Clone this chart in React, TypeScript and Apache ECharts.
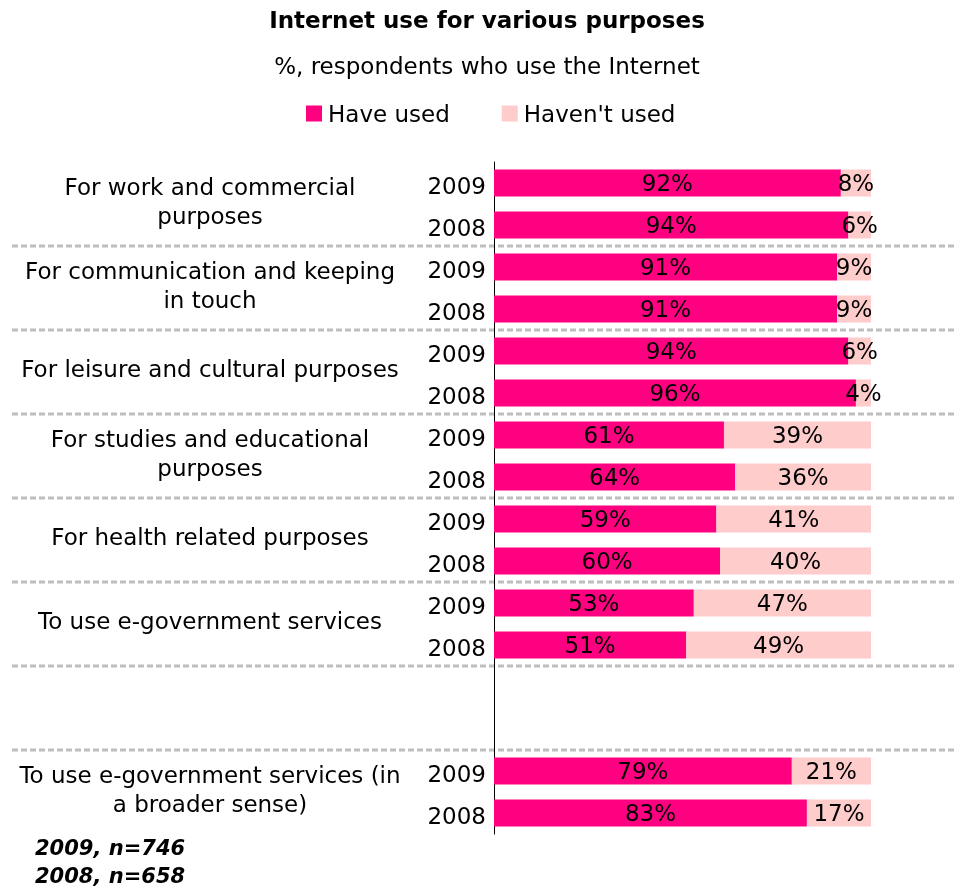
import React, { useEffect, useRef } from "react";
import * as echarts from "echarts";

const groups = [
  "For work and commercial\npurposes",
  "For communication and keeping\nin touch",
  "For leisure and cultural purposes",
  "For studies and educational\npurposes",
  "For health related purposes",
  "To use e-government services",
  "",
  "To use e-government services (in\na broader sense)",
];
const rowLabels = [
  "2009", "2008", "2009", "2008", "2009", "2008", "2009", "2008",
  "2009", "2008", "2009", "2008", "", "", "2009", "2008",
];
const haveUsed: (number | null)[] = [92, 94, 91, 91, 94, 96, 61, 64, 59, 60, 53, 51, null, null, 79, 83];
const haventUsed: (number | null)[] = [8, 6, 9, 9, 6, 4, 39, 36, 41, 40, 47, 49, null, null, 21, 17];
const seriesNames = ["Have used", "Haven't used"];
const titleText = "Internet use for various purposes";
const subtitleText = "%, respondents who use the Internet";
const footnotes = ["2009, n=746", "2008, n=658"];
const separatorAfterRows = [1, 3, 5, 7, 9, 11, 13];

const FONT = "DejaVu Sans";
const FS = 23;
const PINK = "#FF0080";
const LIGHT = "#FFCCCC";

export default function App() {
  const ref = useRef<HTMLDivElement>(null);
  useEffect(() => {
    if (!ref.current) return;
    const chart = echarts.init(ref.current, null, { renderer: "svg" });
    const labelStyle = {
      show: true,
      position: "inside",
      color: "#000",
      fontFamily: FONT,
      fontSize: FS,
      formatter: (p: any) => (p.value == null ? "" : p.value + "%"),
    };
    const hiddenX = (gi: number) => ({ type: "value", min: 0, max: 100, show: false, gridIndex: gi });
    chart.setOption({
      animation: false,
      textStyle: { fontFamily: FONT },
      legend: {
        top: 97,
        left: 301,
        itemWidth: 16,
        itemHeight: 16,
        itemGap: 52,
        icon: "rect",
        textStyle: { fontFamily: FONT, fontSize: FS, color: "#000", padding: [0, 0, 0, 1] },
        data: seriesNames,
      },
      grid: [
        { left: 494, right: 84, top: 162, bottom: 52, containLabel: false },
        { left: 494, right: 84, top: 165, bottom: 49, containLabel: false },
        { left: 494, right: 84, top: 159, bottom: 55, containLabel: false },
      ],
      xAxis: [hiddenX(0), hiddenX(1), hiddenX(2)],
      yAxis: [
        {
          type: "category",
          gridIndex: 0,
          inverse: true,
          data: rowLabels,
          axisLine: { show: true, lineStyle: { color: "#000", width: 1 } },
          axisTick: { show: false },
          axisLabel: { show: false },
        },
        {
          type: "category",
          gridIndex: 1,
          inverse: true,
          data: rowLabels,
          axisLine: { show: false },
          axisTick: { show: false },
          axisLabel: { margin: 8, fontFamily: FONT, fontSize: FS, color: "#000" },
        },
        {
          type: "category",
          gridIndex: 2,
          inverse: true,
          data: groups,
          axisLine: { show: false },
          axisTick: { show: false },
          axisLabel: {
            margin: 284,
            align: "center",
            fontFamily: FONT,
            fontSize: FS,
            lineHeight: 29,
            color: "#000",
          },
        },
      ],
      series: [
        {
          name: seriesNames[0],
          type: "bar",
          stack: "total",
          barWidth: 27,
          xAxisIndex: 0,
          yAxisIndex: 0,
          itemStyle: { color: PINK },
          label: labelStyle,
          data: haveUsed,
        },
        {
          name: seriesNames[1],
          type: "bar",
          stack: "total",
          barWidth: 27,
          xAxisIndex: 0,
          yAxisIndex: 0,
          itemStyle: { color: LIGHT },
          label: labelStyle,
          data: haventUsed,
        },
      ],
    });
    const lines = separatorAfterRows.map((r) => {
      const y1 = chart.convertToPixel({ yAxisIndex: 0 }, r) as number;
      const y2 = chart.convertToPixel({ yAxisIndex: 0 }, r + 1) as number;
      const y = Math.round((y1 + y2) / 2);
      return {
        type: "line",
        shape: { x1: 12, y1: y, x2: 955, y2: y },
        style: { stroke: "#BEBEBE", lineWidth: 3, lineDash: [6, 3] },
        z: -1,
      };
    });
    const titles = [
      {
        type: "text",
        x: 487,
        y: 20,
        style: {
          text: titleText,
          fontFamily: FONT,
          fontSize: 23,
          fontWeight: "bold",
          fill: "#000",
          textAlign: "center",
          textVerticalAlign: "middle",
        },
      },
      {
        type: "text",
        x: 487,
        y: 66,
        style: {
          text: subtitleText,
          fontFamily: FONT,
          fontSize: FS,
          fill: "#000",
          textAlign: "center",
          textVerticalAlign: "middle",
        },
      },
    ];
    const notes = footnotes.map((t, i) => ({
      type: "text",
      left: 35,
      top: 837 + i * 28,
      style: { text: t, fontFamily: FONT, fontSize: 21, fontWeight: "bold", fontStyle: "italic", fill: "#000" },
    }));
    chart.setOption({ graphic: [...lines, ...titles, ...notes] });
    return () => chart.dispose();
  }, []);
  return <div ref={ref} style={{ position: "fixed", left: 0, top: 0, width: 955, height: 886 }} />;
}
